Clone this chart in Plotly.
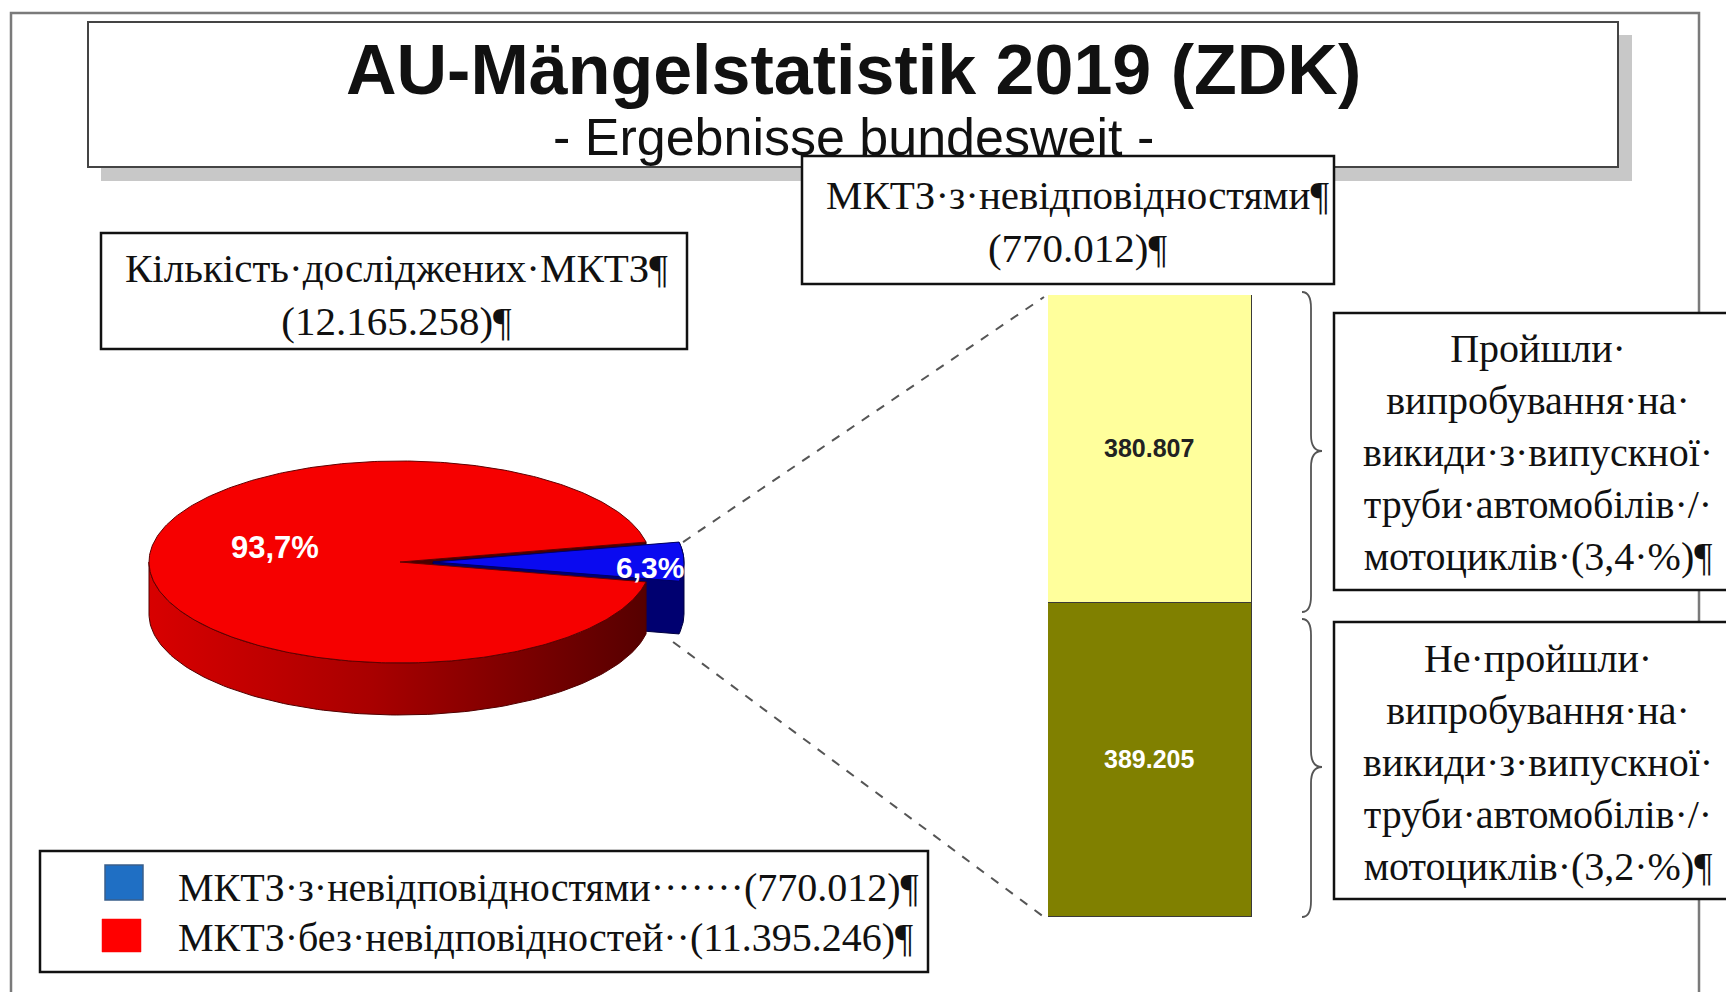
import numpy as np
import plotly.graph_objects as go

W, H = 1726, 992

# ---------------- data ----------------
title = "AU-Mängelstatistik 2019 (ZDK)"
subtitle = "- Ergebnisse bundesweit -"

total_label = "Кількість·досліджених·МКТЗ¶"
total_tested = 12165258

pie_names = ["МКТЗ·з·невідповідностями", "МКТЗ·без·невідповідностей"]
pie_values = [770012, 11395246]
pie_colors_top = ["#0a0af0", "#f60000"]

bar_names = ["Не·пройшли", "Пройшли"]
bar_values = [389205, 380807]
bar_shares = [3.2, 3.4]
bar_colors = ["#808000", "#ffff9c"]
bar_text_colors = ["#ffffff", "#222222"]

defect_label = "МКТЗ·з·невідповідностями¶"


def fmt_int(n):
    return f"{n:,}".replace(",", ".")


def fmt_pct(p):
    return f"{p:.1f}".replace(".", ",")


# ---------------- pie geometry (style constants) ----------------
CX, CY = 400.0, 562.0
RX, RY = 251.0, 101.0
DEPTH = 52.0
EXPLODE = 33.0

pie_total = sum(pie_values)
fr_blue = pie_values[0] / pie_total
half = 180.0 * fr_blue  # half-angle of the defect slice, degrees


def arc(cx, cy, a0, a1, dy=0.0, n=120):
    t = np.radians(np.linspace(a0, a1, n))
    return cx + RX * np.cos(t), cy - RY * np.sin(t) + dy


fig = go.Figure()

# red slice: face at +half (visible in the gap)
pr = arc(CX, CY, half, half, n=1)
fig.add_trace(go.Scatter(
    x=[CX, pr[0][0], pr[0][0], CX, CX],
    y=[CY, pr[1][0], pr[1][0] + DEPTH, CY + DEPTH, CY],
    fill="toself", fillcolor="#4a0000", mode="lines",
    line=dict(color="#300000", width=1), hoverinfo="skip", showlegend=False))

# blue slice body (navy)
bcx = CX + EXPLODE
ax, ay = arc(bcx, CY, half, 0)
bx, by = arc(bcx, CY, 0, -half, dy=DEPTH)
fig.add_trace(go.Scatter(
    x=np.concatenate([[bcx], ax, bx, [bcx, bcx]]),
    y=np.concatenate([[CY], ay, by, [CY + DEPTH, CY]]),
    fill="toself", fillcolor="#000070", mode="lines",
    line=dict(color="#000040", width=1), hoverinfo="skip", showlegend=False))

# blue slice top
tx, ty = arc(bcx, CY, -half, half)
fig.add_trace(go.Scatter(
    x=np.concatenate([[bcx], tx, [bcx]]),
    y=np.concatenate([[CY], ty, [CY]]),
    fill="toself", fillcolor=pie_colors_top[0], mode="lines",
    line=dict(color="#000060", width=1),
    name=pie_names[0], hoverinfo="name", showlegend=False))

# red slice side wall (front half)
sx, sy = arc(CX, CY, 180, 360 - half)
fig.add_trace(go.Scatter(
    x=np.concatenate([sx, sx[::-1], [sx[0]]]),
    y=np.concatenate([sy, sy[::-1] + DEPTH, [sy[0]]]),
    fill="toself",
    fillgradient=dict(type="horizontal",
                      colorscale=[[0, "#d80000"], [0.45, "#a80000"], [1, "#560000"]]),
    mode="lines", line=dict(color="#500000", width=1),
    hoverinfo="skip", showlegend=False))

# red slice top
rx_, ry_ = arc(CX, CY, half, 360 - half, n=400)
fig.add_trace(go.Scatter(
    x=np.concatenate([[CX], rx_, [CX]]),
    y=np.concatenate([[CY], ry_, [CY]]),
    fill="toself", fillcolor=pie_colors_top[1], mode="lines",
    line=dict(color="#600000", width=1),
    name=pie_names[1], hoverinfo="name", showlegend=False))

# ---------------- stacked bar ----------------
BX0, BX1, BY0, BY1 = 1048.0, 1252.0, 295.0, 917.0
for i in range(2):
    fig.add_trace(go.Bar(
        x=[0], y=[bar_values[i]], width=1.0,
        xaxis="x2", yaxis="y2",
        marker=dict(color=bar_colors[i], line=dict(color="#3a3a3a", width=1.5)),
        text=[f"<b>{fmt_int(bar_values[i])}</b>"],
        textposition="inside", insidetextanchor="middle",
        textfont=dict(family="Liberation Sans", size=25, color=bar_text_colors[i]),
        constraintext="none", name=bar_names[i], showlegend=False))

# ---------------- pie labels ----------------
annotations = []
pct_blue = 100 * pie_values[0] / pie_total
pct_red = 100 * pie_values[1] / pie_total
annotations.append(dict(x=CX - 0.5 * RX, y=CY - 15, text=f"<b>{fmt_pct(pct_red)}%</b>",
                        showarrow=False, font=dict(family="Liberation Sans", size=31, color="white")))
annotations.append(dict(x=bcx + 0.865 * RX, y=CY + 5, text=f"<b>{fmt_pct(pct_blue)}%</b>",
                        showarrow=False, font=dict(family="Liberation Sans", size=30, color="white")))

# ---------------- text boxes ----------------
serif = "Liberation Serif"
annotations += [
    dict(x=853, y=70, text=f"<b>{title}</b>", showarrow=False,
         font=dict(family="Liberation Sans", size=70, color="#111")),
    dict(x=853, y=137, text=subtitle, showarrow=False,
         font=dict(family="Liberation Sans", size=52, color="#111")),
    dict(x=396, y=294, text=f"{total_label}<br>({fmt_int(total_tested)})¶", showarrow=False,
         font=dict(family=serif, size=41, color="#111")),
    dict(x=1077, y=221, text=f"{defect_label}<br>({fmt_int(pie_values[0])})¶", showarrow=False,
         font=dict(family=serif, size=41, color="#111")),
    dict(x=1538, y=452,
         text=f"{bar_names[1]}·<br>випробування·на·<br>викиди·з·випускної·<br>труби·автомобілів·/·<br>мотоциклів·({fmt_pct(bar_shares[1])}·%)¶",
         showarrow=False, font=dict(family=serif, size=40, color="#111")),
    dict(x=1538, y=762,
         text=f"{bar_names[0]}·<br>випробування·на·<br>викиди·з·випускної·<br>труби·автомобілів·/·<br>мотоциклів·({fmt_pct(bar_shares[0])}·%)¶",
         showarrow=False, font=dict(family=serif, size=40, color="#111")),
    dict(x=176, y=887, xanchor="left",
         text=f"{pie_names[0]}·······({fmt_int(pie_values[0])})¶", showarrow=False,
         font=dict(family=serif, size=40, color="#111")),
    dict(x=176, y=937, xanchor="left",
         text=f"{pie_names[1]}··({fmt_int(pie_values[1])})¶", showarrow=False,
         font=dict(family=serif, size=40, color="#111")),
]
for a in annotations:
    a.setdefault("xref", "x")
    a.setdefault("yref", "y")

# ---------------- shapes ----------------
def rect(x0, y0, x1, y1, line="#111", width=2.5, fill="white", layer="above"):
    return dict(type="rect", xref="x", yref="y", x0=x0, y0=y0, x1=x1, y1=y1,
                line=dict(color=line, width=width), fillcolor=fill, layer=layer)


def brace(x0, x1, x2, ya, yb, ym, r=16):
    return (f"M {x0},{ya} Q {x1},{ya} {x1},{ya + r} L {x1},{ym - r} "
            f"Q {x1},{ym} {x2},{ym} Q {x1},{ym} {x1},{ym + r} "
            f"L {x1},{yb - r} Q {x1},{yb} {x0},{yb}")


# blue slice corner points for the connector lines
top_corner = arc(bcx, CY, half, half, n=1)
bot_corner = arc(bcx, CY, -half, -half, dy=DEPTH, n=1)

shapes = [
    rect(11, 13, 1699, 1010, line="#7a7a7a", width=2.5, fill="rgba(0,0,0,0)", layer="below"),
    rect(101, 35, 1632, 181, line="#c8c8c8", width=0, fill="#c8c8c8", layer="below"),
    rect(88, 22, 1618, 167, line="#444", width=2, fill="white", layer="below"),
    rect(101, 233, 687, 349),
    rect(802, 156, 1334, 284),
    rect(1334, 313, 1745, 590),
    rect(1334, 622, 1745, 899),
    rect(40, 851, 928, 972),
    rect(105, 865, 143, 900, line="#3a5f8a", width=1.5, fill="#1f6fc4"),
    rect(102, 919, 141, 952, line="#ff0000", width=0.5, fill="#ff0000"),
    dict(type="line", xref="x", yref="y", x0=float(top_corner[0][0]) + 4, y0=float(top_corner[1][0]),
         x1=BX0 - 4, y1=BY0 + 2, line=dict(color="#555", width=2, dash="dash")),
    dict(type="line", xref="x", yref="y", x0=float(bot_corner[0][0]) - 6, y0=float(bot_corner[1][0]) + 8,
         x1=BX0 - 4, y1=BY1, line=dict(color="#555", width=2, dash="dash")),
    dict(type="path", xref="x", yref="y", path=brace(1302, 1311, 1322, 292, 612, 451),
         line=dict(color="#555", width=1.8)),
    dict(type="path", xref="x", yref="y", path=brace(1302, 1311, 1322, 619, 917, 767),
         line=dict(color="#555", width=1.8)),
]

fig.update_layout(
    width=W, height=H, margin=dict(l=0, r=0, t=0, b=0),
    paper_bgcolor="white", plot_bgcolor="white",
    showlegend=False, barmode="stack", bargap=0,
    xaxis=dict(range=[0, W], domain=[0, 1], visible=False, fixedrange=True),
    yaxis=dict(range=[H, 0], domain=[0, 1], visible=False, fixedrange=True),
    xaxis2=dict(range=[-0.5, 0.5], domain=[BX0 / W, BX1 / W], anchor="y2",
                visible=False, fixedrange=True),
    yaxis2=dict(range=[0, sum(bar_values)], domain=[1 - BY1 / H, 1 - BY0 / H], anchor="x2",
                visible=False, fixedrange=True),
    shapes=shapes, annotations=annotations,
)

fig.write_html("out.html", config={"displayModeBar": False},
               post_script="document.body.style.margin='0';document.body.style.overflow='hidden';")
